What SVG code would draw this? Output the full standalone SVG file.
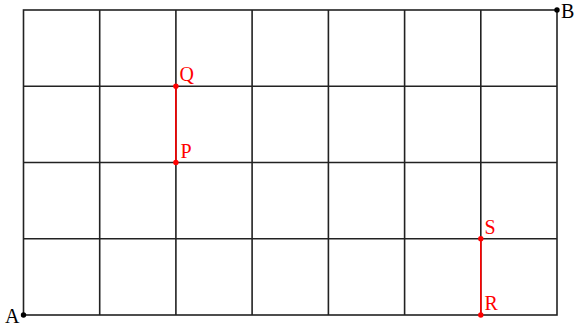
<svg xmlns="http://www.w3.org/2000/svg" width="578" height="326" viewBox="0 0 578 326">
<style>
.g{stroke:#222;stroke-width:1.6;fill:none}
.r{stroke:#ff0000;stroke-width:1.6}
.dk{fill:#000}
.dr{fill:#ff0000}
text{font-family:"Liberation Serif","DejaVu Serif",serif;font-size:20px}
.lr{fill:#ff0000}
</style>
<rect width="578" height="326" fill="#fff"/>
<g id="grid" class="g">
<rect x="23.5" y="10" width="533.5" height="305"/>
<path d="M99.7 10V315M175.9 10V315M252.1 10V315M328.4 10V315M404.6 10V315M480.8 10V315M23.5 86.25H557M23.5 162.5H557M23.5 238.75H557"/>
</g>
<g id="connectors">
<line class="r" x1="175.9" y1="86.25" x2="175.9" y2="162.5"/>
<line class="r" x1="480.8" y1="238.75" x2="480.8" y2="315"/>
</g>
<g id="A"><circle class="dk" cx="23.5" cy="315" r="2.7"/><text x="5" y="323">A</text></g>
<g id="B"><circle class="dk" cx="557" cy="10" r="2.7"/><text x="561" y="18">B</text></g>
<g id="Q"><circle class="dr" cx="175.9" cy="86.25" r="2.7"/><text class="lr" x="179.5" y="81">Q</text></g>
<g id="P"><circle class="dr" cx="175.9" cy="162.5" r="2.7"/><text class="lr" x="180.5" y="158">P</text></g>
<g id="S"><circle class="dr" cx="480.8" cy="238.75" r="2.7"/><text class="lr" x="484.5" y="234">S</text></g>
<g id="R"><circle class="dr" cx="480.8" cy="315" r="2.7"/><text class="lr" x="484.5" y="310">R</text></g>
</svg>
